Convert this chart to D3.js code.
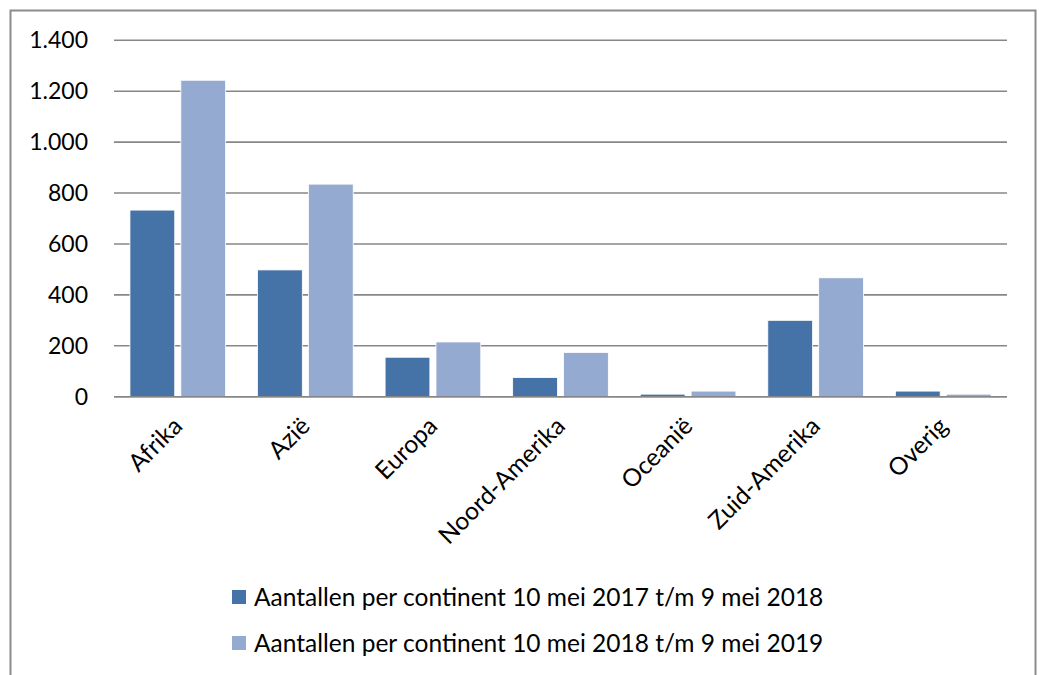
<!DOCTYPE html>
<html><head><meta charset="utf-8">
<script src="https://cdn.jsdelivr.net/npm/d3@7"></script>
<style>body{margin:0;background:#fff}svg{display:block}text{font-family:Lato,"Open Sans",sans-serif;fill:#000}</style>
</head><body>
<script>
const categories = ["Afrika","Azië","Europa","Noord-Amerika","Oceanië","Zuid-Amerika","Overig"];
const series2017 = [733, 498, 155, 75, 10, 300, 22];
const series2018 = [1243, 835, 215, 174, 22, 467, 10];
const seriesNames = ["Aantallen per continent 10 mei 2017 t/m 9 mei 2018","Aantallen per continent 10 mei 2018 t/m 9 mei 2019"];
const colors = ["#4572a7","#95aad0"];
const yTicks = [0,200,400,600,800,1000,1200,1400];

const W=1039,H=675;
const svg=d3.select("body").append("svg").attr("width",W).attr("height",H);
svg.append("rect").attr("x",10.5).attr("y",10.5).attr("width",1025).attr("height",700)
  .attr("fill","none").attr("stroke","#8c8c8c").attr("stroke-width",2);

const L=114,R=1007,T=40.3,B=396.7;
const x=d3.scaleBand().domain(categories).range([L,R]).paddingInner(0.25).paddingOuter(0.125);
const xs=d3.scaleBand().domain([0,1]).range([0,x.bandwidth()]).paddingInner(0.12);
const y=d3.scaleLinear().domain([0,1400]).range([B,T]);
const fmt=d=>d3.format(",")(d).replace(/,/g,".");

const g=svg.append("g");
g.selectAll("line.grid").data(yTicks).join("line").attr("class","grid")
  .attr("x1",L).attr("x2",R).attr("y1",d=>y(d)).attr("y2",d=>y(d))
  .attr("stroke","#878787").attr("stroke-width",1.6);
g.selectAll("text.yt").data(yTicks).join("text").attr("class","yt")
  .attr("x",88).attr("y",d=>y(d)).attr("dy","0.35em").attr("text-anchor","end")
  .style("font-size","23px").text(fmt);

const data=categories.map((c,i)=>({c,v:[series2017[i],series2018[i]]}));
const grp=g.selectAll("g.cat").data(data).join("g").attr("transform",d=>`translate(${x(d.c)},0)`);
grp.selectAll("rect").data(d=>d.v.map((v,k)=>({v,k}))).join("rect")
  .attr("x",d=>xs(d.k)).attr("width",xs.bandwidth())
  .attr("y",d=>y(d.v)).attr("height",d=>B-y(d.v))
  .attr("fill",d=>colors[d.k]).attr("stroke","#fff").attr("stroke-width",0.8);
g.append("line").attr("x1",L).attr("x2",R).attr("y1",B).attr("y2",B).attr("stroke","#878787").attr("stroke-width",1.6);

g.selectAll("text.xt").data(categories).join("text").attr("class","xt")
  .attr("text-anchor","end").style("font-size","24.5px")
  .attr("transform",d=>`translate(${x(d)+x.bandwidth()/2+6},${B+31}) rotate(-45)`)
  .text(d=>d);

const leg=svg.append("g");
seriesNames.forEach((n,i)=>{
  const cy=597+i*46;
  leg.append("rect").attr("x",232).attr("y",cy-7).attr("width",14).attr("height",14).attr("fill",colors[i]);
  leg.append("text").attr("x",254).attr("y",cy).attr("dy","0.36em").style("font-size","24.5px").text(n);
});
</script>
</body></html>
